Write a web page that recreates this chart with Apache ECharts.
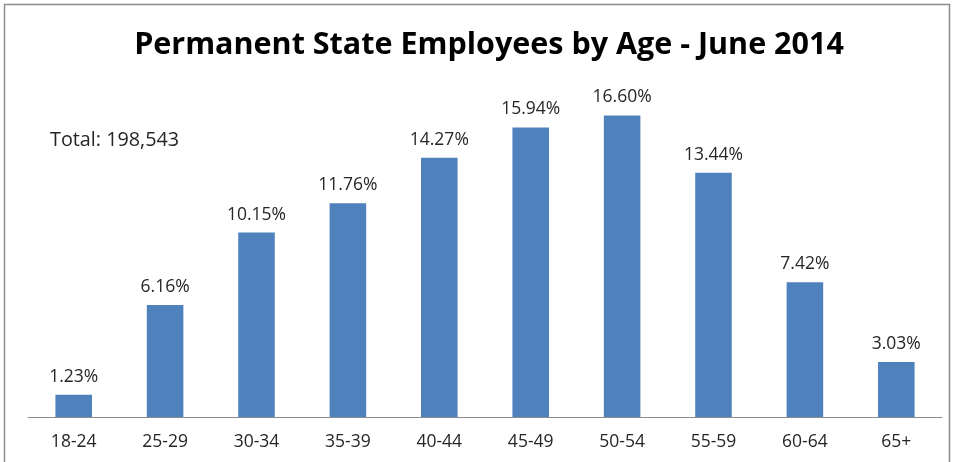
<!DOCTYPE html>
<html><head><meta charset="utf-8">
<script src="https://cdn.jsdelivr.net/npm/echarts@6/dist/echarts.min.js"></script>
<style>html,body{margin:0;padding:0;background:#fff}#c{width:954px;height:462px}</style>
</head><body><div id="c"></div>
<script>
const categories = ['18-24','25-29','30-34','35-39','40-44','45-49','50-54','55-59','60-64','65+'];
const values = [1.23, 6.16, 10.15, 11.76, 14.27, 15.94, 16.60, 13.44, 7.42, 3.03];
const titleText = 'Permanent State Employees by Age - June 2014';
const totalText = 'Total: 198,543';

const chart = echarts.init(document.getElementById('c'));
chart.setOption({
  animation: false,
  backgroundColor: '#fff',
  title: {
    text: titleText, left: 484, top: 25, textAlign: 'center',
    textStyle: {fontFamily: 'Open Sans', fontWeight: 'bold', fontSize: 30.5, color: '#000'}
  },
  graphic: [
    {type: 'rect', shape: {x: 4.5, y: 4.5, width: 945, height: 470}, style: {fill: 'none', stroke: '#8c8c8c', lineWidth: 1.5}, silent: true},
    {type: 'text', left: 50, top: 130, style: {text: totalText, font: '19.8px "Open Sans"', fill: '#262626'}}
  ],
  grid: {left: 28, right: 12, top: 90, bottom: 45, containLabel: false},
  xAxis: {
    type: 'category', data: categories,
    axisLine: {lineStyle: {color: '#8c8c8c', width: 1}},
    axisTick: {show: false},
    axisLabel: {fontFamily: 'Open Sans', fontSize: 17.5, color: '#262626', margin: 16}
  },
  yAxis: {type: 'value', min: 0, max: 18, show: false, splitLine: {show: false}},
  series: [{
    type: 'bar', data: values, barWidth: '40%',
    itemStyle: {color: '#4F81BD'},
    label: {show: true, position: 'top', distance: 9, fontFamily: 'Open Sans', fontSize: 17.5, color: '#262626',
      formatter: p => p.value.toFixed(2) + '%'}
  }]
});
</script></body></html>
